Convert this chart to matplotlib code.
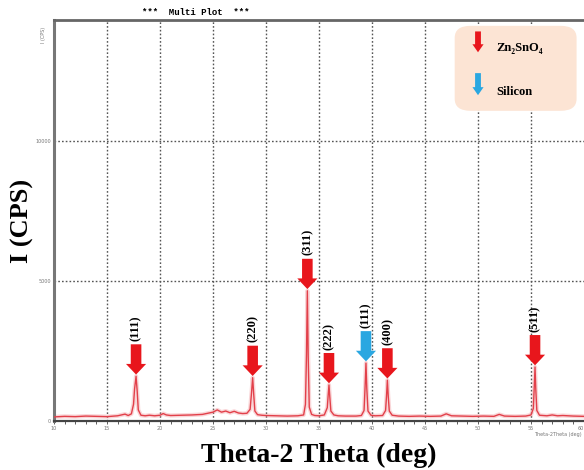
import matplotlib
matplotlib.use("Agg")
import matplotlib.pyplot as plt
from matplotlib.patches import FancyArrow, FancyBboxPatch

# XRD pattern (2theta in deg, intensity in CPS)
two_theta = [10, 11, 12, 13, 14, 15, 16, 16.7, 17.0, 17.3, 17.5, 17.6, 17.74, 17.85, 17.95,
             18.2, 18.6, 19, 19.5, 20, 20.3, 20.6, 21, 22, 23, 24, 24.5, 25, 25.4, 25.8,
             26.2, 26.6, 27, 27.4, 27.8, 28.2, 28.5, 28.62, 28.74, 28.84, 28.95, 29.2,
             29.6, 30, 31, 32, 33, 33.55, 33.72, 33.82, 33.9, 33.98, 34.08, 34.3, 34.6, 35,
             35.5, 35.78, 35.87, 35.94, 36.02, 36.12, 36.4, 36.8, 37.5, 38.5, 39.0, 39.25,
             39.35, 39.43, 39.51, 39.62, 39.9, 40.3, 41.0, 41.28, 41.37, 41.45, 41.53,
             41.63, 41.9, 42.5, 43.5, 44.5, 45.5, 46.5, 47.0, 47.5, 48.5, 49.5, 50.5,
             51.5, 52.0, 52.5, 53.5, 54.5, 55.0, 55.22, 55.31, 55.38, 55.45, 55.55, 55.8,
             56.5, 57, 57.5, 58, 59, 60]
intensity = [150, 170, 160, 180, 170, 160, 190, 250, 200, 260, 600, 1150, 1600, 1050, 400,
             210, 190, 210, 190, 210, 270, 220, 200, 210, 220, 240, 280, 320, 400, 320,
             360, 300, 350, 290, 270, 280, 420, 950, 1550, 950, 360, 230,
             210, 200, 190, 180, 190, 220, 600, 2400, 4650, 2300, 500, 240, 200, 190,
             220, 480, 950, 1290, 850, 360, 220, 190, 180, 180, 200, 380,
             1250, 2070, 1150, 360, 210, 190, 200, 380, 900, 1460, 900,
             360, 210, 180, 170, 180, 170, 180, 260, 190, 180, 170, 180,
             170, 240, 180, 170, 180, 220, 450, 1250, 1930, 1150, 380, 210,
             190, 220, 190, 200, 180, 170]

# peak markers
zto_pos = [17.74, 28.74, 33.9, 35.94, 41.45, 55.38]
zto_top = [1600, 1550, 4650, 1290, 1460, 1930]
zto_hkl = ["(111)", "(220)", "(311)", "(222)", "(400)", "(511)"]
si_pos = [39.43]
si_top = [2070]
si_hkl = ["(111)"]

x_ticks = [10, 15, 20, 25, 30, 35, 40, 45, 50, 55, 60]
y_ticks = [0, 5000, 10000]

RED = "#e8161c"
BLUE = "#2aa7e1"
SERIF = ["Liberation Serif", "DejaVu Serif"]

fig = plt.figure(figsize=(5.84, 4.70), dpi=100)
ax = fig.add_axes([0.0925, 0.104, 0.9075, 0.853])

ax.plot(two_theta, intensity, color="#f08a90", lw=3, alpha=0.35, zorder=2)
ax.plot(two_theta, intensity, color="#e2404a", lw=1.0, zorder=3)

ax.set_xlim(10, 60)
ax.set_ylim(0, 14300)

for gx in x_ticks[1:-1]:
    ax.axvline(gx, color="#555555", lw=1.0, ls=(0, (1.2, 1.5)), zorder=1)
for gy in y_ticks[1:]:
    ax.axhline(gy, color="#555555", lw=1.0, ls=(0, (1.2, 1.5)), zorder=1)

ax.set_xticks(x_ticks)
ax.set_xticklabels([str(t) for t in x_ticks], fontsize=3.5, color="#777777")
ax.get_xticklabels()[-1].set_ha("right")
ax.set_xticks([t for t in range(10, 61)], minor=True)
ax.set_yticks(y_ticks)
ax.set_yticklabels([str(t) for t in y_ticks], fontsize=3.5, color="#777777")
ax.tick_params(axis="x", which="both", direction="out", length=2, width=0.6,
               color="#444444", pad=1.5)
ax.tick_params(axis="y", length=0, pad=2)

ax.spines["left"].set_linewidth(2.2)
ax.spines["left"].set_color("#777777")
ax.spines["top"].set_linewidth(2.0)
ax.spines["top"].set_color("#666666")
ax.spines["bottom"].set_linewidth(1.6)
ax.spines["bottom"].set_color("#444444")
ax.spines["right"].set_visible(False)


def peak_arrow(x, top, label, color):
    tail = top + 60 + 1080
    ax.add_patch(FancyArrow(x, tail, 0, -1080, width=1.0, head_width=1.9,
                            head_length=380, length_includes_head=True,
                            color=color, lw=0, zorder=4))
    ax.text(x, tail + 120, label, rotation=90, ha="center", va="bottom",
            fontsize=9, fontweight="bold", family=SERIF, zorder=5)


for x, top, lab in zip(zto_pos, zto_top, zto_hkl):
    peak_arrow(x, top, lab, RED)
for x, top, lab in zip(si_pos, si_top, si_hkl):
    peak_arrow(x, top, lab, BLUE)

# legend box
ax.add_patch(FancyBboxPatch((0.762, 0.78), 0.218, 0.2,
                            boxstyle="round,pad=0.006,rounding_size=0.03",
                            transform=ax.transAxes, facecolor="#fce4d4",
                            edgecolor="none", zorder=6))
ax.add_patch(FancyArrow(0.80, 0.972, 0, -0.052, width=0.011, head_width=0.021,
                        head_length=0.02, length_includes_head=True,
                        transform=ax.transAxes, color=RED, lw=0, zorder=7))
ax.add_patch(FancyArrow(0.80, 0.868, 0, -0.055, width=0.011, head_width=0.021,
                        head_length=0.02, length_includes_head=True,
                        transform=ax.transAxes, color=BLUE, lw=0, zorder=7))
ax.text(0.835, 0.93, "Zn₂SnO₄", transform=ax.transAxes, va="center", ha="left",
        fontsize=9, fontweight="bold", family=SERIF, zorder=8)
ax.text(0.835, 0.82, "Silicon", transform=ax.transAxes, va="center", ha="left",
        fontsize=9, fontweight="bold", family=SERIF, zorder=8)

# texts around the axes
fig.text(0.335, 0.974, "***  Multi Plot  ***", ha="center", va="center",
         fontsize=6.5, fontweight="bold", family="Liberation Mono")
fig.text(0.545, 0.032, "Theta-2 Theta (deg)", ha="center", va="center",
         fontsize=20, fontweight="bold", family=SERIF)
fig.text(0.038, 0.53, "I (CPS)", ha="center", va="center", rotation=90,
         fontsize=19, fontweight="bold", family=SERIF)
fig.text(0.074, 0.925, "I (CPS)", ha="center", va="center", rotation=90,
         fontsize=3.5, color="#777777")
fig.text(0.955, 0.076, "Theta-2Theta (deg)", ha="center", va="center",
         fontsize=3.5, color="#777777")

fig.savefig("out.png", dpi=100)
